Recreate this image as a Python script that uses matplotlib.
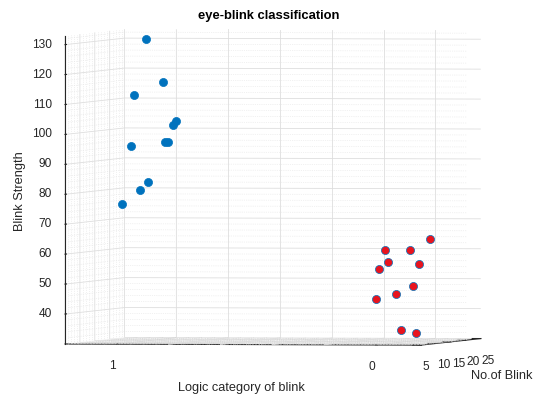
import numpy as np
import matplotlib
matplotlib.use('Agg')
import matplotlib.pyplot as plt
from mpl_toolkits.mplot3d import proj3d

# values
blink_count_1 = [14.8, 20.5, 10.8, 25.0, 24.0, 22.1, 21.2, 9.9, 15.6, 12.7, 6.9]
blink_strength_1 = [130.9, 115.8, 112.7, 102.2, 101.0, 95.8, 95.8, 95.6, 82.9, 80.8, 76.6]
blink_count_0 = [23.1, 8.1, 16.4, 9.1, 19.4, 6.0, 17.3, 11.9, 5.2, 13.6, 18.4]
blink_strength_0 = [63.5, 61.3, 60.4, 57.3, 55.4, 55.3, 48.5, 46.3, 45.3, 34.2, 32.4]
logic_ticks = [0, 1]
count_ticks = [5, 10, 15, 20, 25]
strength_ticks = list(range(40, 131, 10))

plt.rcParams['font.family'] = ['Liberation Sans', 'DejaVu Sans']
plt.rcParams['grid.color'] = '#dedede'
plt.rcParams['grid.linewidth'] = 0.6
plt.rcParams['grid.linestyle'] = '-'

axcol = '#262626'
mincol = '#e4e4e4'
XL, YL, ZL = (1.2, -0.175), (5, 25), (30, 133)
W, H = 537, 399

fig = plt.figure(figsize=(W/100, H/100), dpi=100, facecolor='w')
ax = fig.add_axes([-1/W, 7/H, 1.0, 1.0], projection='3d', proj_type='ortho')
ax.computed_zorder = False
ax.view_init(elev=1.05, azim=-80.5)
ax.set_box_aspect((365.4, 365, 312), zoom=1.451)

# minor / extra grid
for z in range(32, 133, 2):
    if z % 10:
        ax.plot(XL, [25, 25], [z, z], color=mincol, lw=0.5, ls=':', zorder=1)
        ax.plot([1.2, 1.2], YL, [z, z], color=mincol, lw=0.5, ls=':', zorder=1)
for c in range(6, 25):
    if c % 5:
        ax.plot([1.2, 1.2], [c, c], ZL, color=mincol, lw=0.5, ls=':', zorder=1)
        ax.plot(XL, [c, c], [30, 30], color=mincol, lw=0.4, ls=':', zorder=1)
for xm in np.arange(-0.15, 1.2, 0.05):
    ax.plot([xm, xm], YL, [30, 30], color='#cccccc', lw=0.5, ls=':', zorder=1)
for xm in [0.2, 0.4, 0.6, 0.8]:
    ax.plot([xm, xm], [25, 25], ZL, color='#dedede', lw=0.6, zorder=1)
    ax.plot([xm, xm], YL, [30, 30], color='#dedede', lw=0.6, zorder=1)

ax.scatter([1]*len(blink_count_1), blink_count_1, blink_strength_1, s=34,
           color='#0072BD', edgecolors='#0072BD', linewidths=0.5, depthshade=False, zorder=5)
ax.scatter([0]*len(blink_count_0), blink_count_0, blink_strength_0, s=34,
           color='#E8141E', edgecolors='#0072BD', linewidths=0.5, depthshade=False, zorder=5)

ax.set_xlim(*XL)
ax.set_ylim(*YL)
ax.set_zlim(*ZL)
ax.set_xticks(logic_ticks)
ax.set_yticks(count_ticks)
ax.set_zticks(strength_ticks)
ax.zaxis.set_ticks_position('lower')

for a in (ax.xaxis, ax.yaxis, ax.zaxis):
    a.set_tick_params(colors=axcol, labelbottom=False, labeltop=False)
    a.label.set_visible(False)
    a.offsetText.set_visible(False)
    a.set_pane_color((1, 1, 1, 0))
    a.pane.set_edgecolor('#dedede')
    a.line.set_color(axcol)
    a.line.set_linewidth(0.8)
    a._axinfo['tick']['inward_factor'] = 0.0
    a._axinfo['tick']['outward_factor'] = 0.3

# tick labels placed MATLAB-style, from the projected tick positions
fig.canvas.draw()
M = ax.get_proj()

def px(x, y, z):
    u, v, _ = proj3d.proj_transform(x, y, z, M)
    return ax.transData.transform((u, v))

tk = dict(fontsize=8.6, color=axcol, va='center')
for v in logic_ticks:
    p = px(v, 5, 30)
    fig.text((p[0] - 1) / W, (p[1] - 22) / H, str(v), ha='right', **tk)
for v in count_ticks:
    p = px(-0.175, v, 30)
    fig.text((p[0] + 1) / W, (p[1] - 22) / H, str(v), ha='left', **tk)
for v in strength_ticks:
    p = px(1.2, 5, v)
    fig.text((p[0] - 13) / W, p[1] / H, str(v), ha='right', **tk)

fig.text(0.5, 1-16/H, 'eye-blink classification', ha='center', va='center',
         fontsize=9.4, fontweight='bold', color='black')
fig.text(241/W, 1-388/H, 'Logic category of blink', ha='center', va='center',
         fontsize=9.2, color=axcol)
fig.text(502/W, 1-376/H, 'No.of Blink', ha='center', va='center',
         fontsize=9.2, color=axcol)
fig.text(20/W, 1-191/H, 'Blink Strength', ha='center', va='center',
         rotation=90, fontsize=9.2, color=axcol)

fig.savefig('out.png', dpi=100)
